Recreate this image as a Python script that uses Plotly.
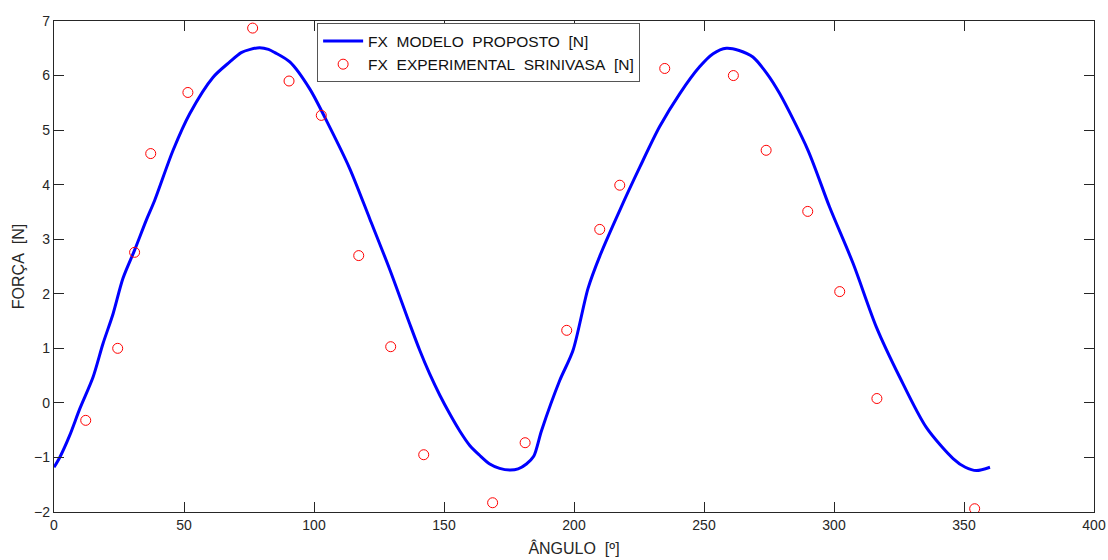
import plotly.graph_objects as go

SP = "\u00a0\u00a0"

# Model curve
model_x = [0, 2.2, 6, 9.9, 15, 18.8, 22.7, 26.5, 31, 35.5, 38.7, 45.8, 52.2, 61.2, 67.6, 72, 75.5, 79.1, 82.5,
           85, 90.7, 98.3, 106, 113.7, 121.4, 129.1, 136.8, 140.7, 144.5, 148.4, 152.2, 156, 159.9, 163.7,
           167.6, 171.4, 175.3, 178.5, 181.7, 184.5, 187.5, 194.5, 199.6, 205.4, 210, 217.6, 225.3, 232.9,
           240.7, 248.3, 253.5, 258.6, 263.5, 268.8, 274, 279.1, 290, 298.3, 307.4, 316.3, 325.3, 335.5,
           345.8, 350.5, 354.8, 360]
model_y = [-1.18, -1.0, -0.6, -0.11, 0.47, 1.08, 1.63, 2.28, 2.80, 3.35, 3.71, 4.63, 5.30, 5.97, 6.25, 6.42,
           6.48, 6.51, 6.48, 6.42, 6.25, 5.76, 5.06, 4.30, 3.38, 2.45, 1.45, 0.96, 0.53, 0.14, -0.20, -0.51,
           -0.78, -0.96, -1.12, -1.20, -1.23, -1.21, -1.12, -0.98, -0.51, 0.41, 0.96, 2.10, 2.70, 3.53,
           4.32, 5.06, 5.67, 6.16, 6.40, 6.50, 6.46, 6.34, 6.05, 5.67, 4.63, 3.59, 2.55, 1.39, 0.47,
           -0.45, -1.02, -1.18, -1.24, -1.18]

# Experimental points
exp_x = [12.2, 24.5, 31.0, 37.2, 51.5, 76.4, 90.4, 102.8, 117.2, 129.5, 142.2, 168.7, 181.2, 197.2,
         209.9, 217.6, 234.9, 261.3, 273.9, 289.9, 302.2, 316.5, 354.1]
exp_y = [-0.32, 1.0, 2.76, 4.57, 5.69, 6.87, 5.9, 5.27, 2.70, 1.03, -0.95, -1.83, -0.73, 1.33,
         3.18, 3.99, 6.13, 6.0, 4.63, 3.51, 2.04, 0.08, -1.94]

x_ticks = [0, 50, 100, 150, 200, 250, 300, 350, 400]
y_ticks = [-2, -1, 0, 1, 2, 3, 4, 5, 6, 7]

name_model = SP.join(["FX", "MODELO", "PROPOSTO", "[N]"])
name_exp = SP.join(["FX", "EXPERIMENTAL", "SRINIVASA", "[N]"])

fig = go.Figure()
fig.add_trace(go.Scatter(x=model_x, y=model_y, mode="lines", name=name_model,
                         line=dict(color="#0000FF", width=3, shape="spline", smoothing=0.8)))
fig.add_trace(go.Scatter(x=exp_x, y=exp_y, mode="markers", name=name_exp,
                         marker=dict(symbol="circle-open", color="#FF0000", size=10,
                                     line=dict(width=1, color="#FF0000"))))

axis_common = dict(showgrid=False, zeroline=False, showline=True, linecolor="#262626", linewidth=1.3,
                   mirror="allticks", ticks="inside", ticklen=10, tickwidth=1.3, tickcolor="#262626",
                   automargin=False,
                   tickfont=dict(family="Liberation Sans, Arial", size=14, color="#262626"))

fig.update_layout(
    width=1108, height=560,
    margin=dict(l=54, r=14, t=21, b=48),
    paper_bgcolor="white", plot_bgcolor="white",
    font=dict(family="Liberation Sans, Arial", color="#262626"),
    xaxis=dict(range=[0, 400], tickvals=x_ticks,
               title=dict(text="ÂNGULO" + SP + "[º]", font=dict(size=16, color="#262626"), standoff=10),
               **axis_common),
    yaxis=dict(range=[-2, 7], tickvals=y_ticks,
               title=dict(text="FORÇA" + SP + "[N]", font=dict(size=16, color="#262626"), standoff=5),
               **axis_common),
    legend=dict(x=0.253, y=0.995, xanchor="left", yanchor="top",
                bgcolor="white", bordercolor="#555555", borderwidth=1,
                font=dict(family="Liberation Sans, Arial", size=15.5, color="#111111"),
                tracegroupgap=0, itemwidth=40),
    showlegend=True,
)

fig.write_html("out.html")
